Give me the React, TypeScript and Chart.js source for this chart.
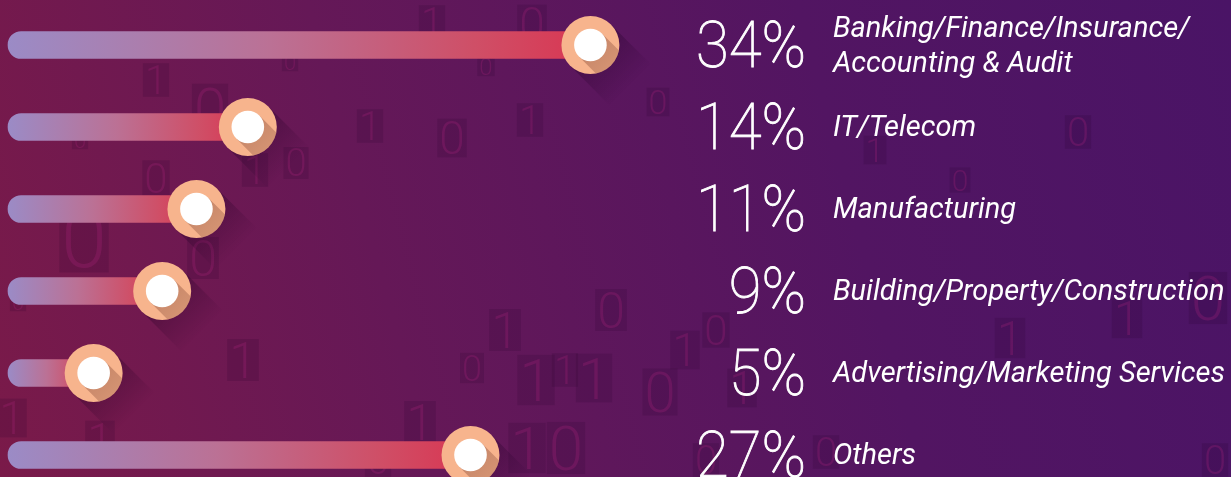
import React, { useEffect, useRef } from "react";
import { Chart, registerables } from "chart.js";

Chart.register(...registerables);

const categories: (string | string[])[] = [
  ["Banking/Finance/Insurance/", "Accounting & Audit"],
  "IT/Telecom",
  "Manufacturing",
  "Building/Property/Construction",
  "Advertising/Marketing Services",
  "Others",
];
const shares: number[] = [34, 14, 11, 9, 5, 27];
const percentLabels: string[] = ["34%", "14%", "11%", "9%", "5%", "27%"];

// decorative background binary digits: [glyph, x, y, size]
const bgDigits: [string, number, number, number][] = [
  ["1", 432, 22, 40], ["0", 532, 24, 46], ["0", 290, 62, 22], ["0", 486, 66, 24],
  ["1", 156, 80, 40], ["0", 210, 108, 58], ["1", 370, 126, 40], ["0", 452, 138, 46],
  ["1", 530, 120, 40], ["0", 658, 102, 34], ["0", 1078, 132, 40], ["0", 80, 140, 22],
  ["0", 156, 178, 42], ["1", 255, 170, 40], ["0", 296, 163, 38], ["0", 84, 238, 82],
  ["0", 203, 258, 50], ["0", 18, 302, 22], ["0", 611, 310, 50], ["1", 505, 330, 50],
  ["0", 716, 330, 42], ["1", 1010, 338, 48], ["0", 1208, 298, 62], ["1", 1127, 318, 48],
  ["1", 243, 360, 50], ["0", 472, 368, 36], ["1", 536, 380, 60], ["1", 565, 370, 40],
  ["1", 594, 378, 58], ["0", 660, 392, 56], ["1", 685, 350, 46], ["1", 742, 388, 46],
  ["1", 12, 418, 46], ["1", 100, 440, 46], ["1", 420, 422, 50], ["1", 527, 448, 60],
  ["0", 566, 448, 62], ["0", 378, 460, 40], ["0", 826, 452, 40], ["0", 1215, 460, 40],
  ["0", 706, 460, 40], ["1", 875, 150, 34], ["0", 960, 180, 30],
];

const X_MAX = 40;

const decorPlugin = {
  id: "decor",
  beforeDatasetsDraw(chart: any) {
    const c = chart.ctx;
    c.save();
    for (const [g, x, y, s] of bgDigits) {
      c.font = `300 ${s}px Roboto`;
      const w = c.measureText(g).width;
      c.fillStyle = "rgba(40,0,45,0.16)";
      c.fillRect(x - w / 2 - 2, y - s * 0.42, w + 4, s * 0.84);
      c.fillStyle = "rgba(175,35,125,0.26)";
      c.textAlign = "center";
      c.textBaseline = "alphabetic";
      c.fillText(g, x, y + s * 0.355);
    }
    c.restore();
  },
};

const markerPlugin = {
  id: "markers",
  afterDatasetsDraw(chart: any) {
    const c = chart.ctx;
    const meta = chart.getDatasetMeta(0);
    const R = 29;
    const r = 16.3;
    const L = 40;
    const d = Math.SQRT1_2;
    meta.data.forEach((el: any) => {
      const x = el.x;
      const y = el.y;
      if (!isFinite(x) || !isFinite(y)) return;
      c.save();
      const g = c.createLinearGradient(x, y, x + L, y + L);
      g.addColorStop(0, "rgba(30,0,35,0.35)");
      g.addColorStop(1, "rgba(30,0,35,0)");
      c.fillStyle = g;
      c.beginPath();
      c.moveTo(x + R * d, y - R * d);
      c.lineTo(x + R * d + L, y - R * d + L);
      c.lineTo(x - R * d + L, y + R * d + L);
      c.lineTo(x - R * d, y + R * d);
      c.closePath();
      c.fill();
      c.beginPath();
      c.arc(x, y, R, 0, Math.PI * 2);
      c.fillStyle = "#f7b48d";
      c.fill();
      c.save();
      c.beginPath();
      c.arc(x, y, R, 0, Math.PI * 2);
      c.clip();
      const g2 = c.createLinearGradient(x, y, x + R * d, y + R * d);
      g2.addColorStop(0, "rgba(120,60,45,0.38)");
      g2.addColorStop(1, "rgba(120,60,45,0.28)");
      c.fillStyle = g2;
      c.beginPath();
      c.moveTo(x + r * d, y - r * d);
      c.lineTo(x + r * d + L, y - r * d + L);
      c.lineTo(x - r * d + L, y + r * d + L);
      c.lineTo(x - r * d, y + r * d);
      c.closePath();
      c.fill();
      c.restore();
      c.beginPath();
      c.arc(x, y, r, 0, Math.PI * 2);
      c.fillStyle = "#ffffff";
      c.fill();
      c.restore();
    });
  },
};

const textPlugin = {
  id: "rowText",
  afterDraw(chart: any) {
    const c = chart.ctx;
    const ys = chart.scales.y;
    c.save();
    c.fillStyle = "#ffffff";
    c.strokeStyle = "#ffffff";
    categories.forEach((cat, i) => {
      const y = ys.getPixelForValue(i);
      c.save();
      c.font = "100 65px Roboto";
      c.textAlign = "right";
      c.textBaseline = "alphabetic";
      c.translate(806, y + 22);
      c.scale(0.92, 1);
      c.lineWidth = 0.9;
      c.fillText(percentLabels[i], 0, 0);
      c.strokeText(percentLabels[i], 0, 0);
      c.restore();
      const lines = Array.isArray(cat) ? cat : [cat];
      c.font = "italic 400 29px Roboto";
      c.textAlign = "left";
      c.textBaseline = "alphabetic";
      lines.forEach((ln, k) => {
        const by = y + 9 - ((lines.length - 1) * 35) / 2 + k * 35;
        c.fillText(ln, 833, by);
      });
    });
    c.restore();
  },
};

export default function App() {
  const ref = useRef<HTMLCanvasElement>(null);
  useEffect(() => {
    document.body.style.margin = "0";
    const canvas = ref.current!;
    const W = 1231;
    const pxPerUnit = 17.13;
    const rightPad = W - 8 - pxPerUnit * X_MAX;
    const chart = new Chart(canvas, {
      type: "bar",
      data: {
        labels: categories as any,
        datasets: [
          {
            data: shares,
            backgroundColor: (ctx: any) => {
              const ch = ctx.chart;
              const sx = ch.scales && ch.scales.x;
              if (!sx || ctx.type !== "data") return "#c06080";
              const x0 = sx.getPixelForValue(0);
              const x1 = sx.getPixelForValue(ctx.raw);
              if (!isFinite(x0) || !isFinite(x1) || x1 === x0) return "#c06080";
              const gr = ch.ctx.createLinearGradient(x0, 0, x1, 0);
              gr.addColorStop(0, "#9b8bc6");
              gr.addColorStop(0.45, "#bb7195");
              gr.addColorStop(0.8, "#cf4f67");
              gr.addColorStop(1, "#d93652");
              return gr;
            },
            borderRadius: 14,
            borderSkipped: false,
            barThickness: 27,
            clip: false,
          } as any,
        ],
      },
      options: {
        indexAxis: "y",
        animation: false,
        responsive: true,
        maintainAspectRatio: false,
        layout: { padding: { left: 8, right: rightPad, top: 45, bottom: 22 } },
        scales: {
          x: { type: "linear", min: 0, max: X_MAX, display: false },
          y: { display: false, offset: false },
        },
        plugins: { legend: { display: false }, tooltip: { enabled: false } },
      },
      plugins: [decorPlugin, markerPlugin, textPlugin],
    });
    return () => chart.destroy();
  }, []);
  return (
    <div
      style={{
        position: "fixed",
        left: 0,
        top: 0,
        width: "100vw",
        height: "100vh",
        background:
          "linear-gradient(75deg, #7a1a49 0%, #651857 32%, #521562 68%, #4a1466 100%)",
      }}
    >
      <canvas ref={ref} />
    </div>
  );
}
